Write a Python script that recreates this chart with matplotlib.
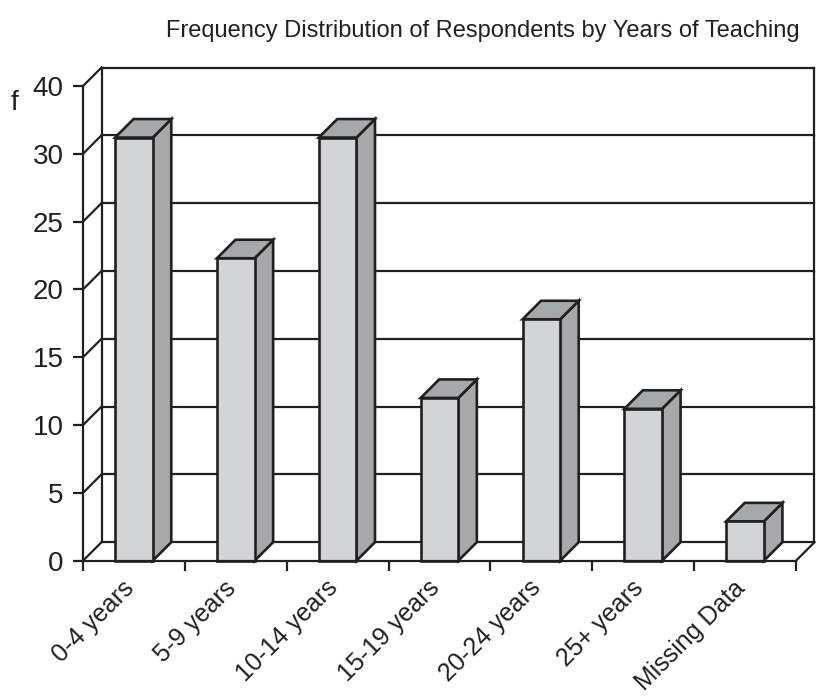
import numpy as np
import matplotlib.pyplot as plt
from matplotlib.patches import Polygon
from matplotlib.transforms import ScaledTranslation

plt.rcParams['font.family'] = ['Liberation Sans', 'DejaVu Sans']

# years-of-teaching groups and respondent counts
categories = ['0-4 years', '5-9 years', '10-14 years', '15-19 years',
              '20-24 years', '25+ years', 'Missing Data']
counts = [31.2, 22.3, 31.2, 12.0, 17.8, 11.2, 2.9]
ytick_values = [0, 5, 10, 15, 20, 25, 30, 35]
ytick_labels = ['0', '5', '10', '15', '20', '25', '30', '40']

line_col = '#231f20'
front_col = '#d3d4d6'
shade_col = '#a7a8aa'

W, H = 825, 697
fig = plt.figure(figsize=(W / 100, H / 100), dpi=100)
left, right, bottom, top = 83, 796, 560.7, 86
ax = fig.add_axes([left / W, 1 - bottom / H, (right - left) / W, (bottom - top) / H])

n = len(categories)
ymax = 35
ax.set_xlim(0, n)
ax.set_ylim(0, ymax)

# depth offset of the 3d box, in data units (about 18.5 px each way)
dx = 18.5 / ((right - left) / n)
dy = 18.5 / ((bottom - top) / ymax)

lw = 1.6
# back wall and its gridlines
for v in ytick_values:
    ax.plot([dx, n + dx], [v + dy, v + dy], color=line_col, lw=lw, clip_on=False, zorder=1)
    ax.plot([0, dx], [v, v + dy], color=line_col, lw=lw, clip_on=False, zorder=1)
ax.plot([dx, dx], [dy, ymax + dy], color=line_col, lw=lw, clip_on=False, zorder=1)
ax.plot([n + dx, n + dx], [dy, ymax + dy], color=line_col, lw=lw, clip_on=False, zorder=1)
ax.plot([n, n + dx], [0, dy], color=line_col, lw=lw, clip_on=False, zorder=1)

# 3d bars
bw = 0.37
for i, v in enumerate(counts):
    c = i + 0.5
    x0, x1 = c - bw / 2, c + bw / 2
    front = Polygon([(x0, 0), (x1, 0), (x1, v), (x0, v)], closed=True,
                    facecolor=front_col, edgecolor=line_col, lw=1.9, zorder=3,
                    joinstyle='miter', clip_on=False)
    side = Polygon([(x1, 0), (x1 + dx, dy), (x1 + dx, v + dy), (x1, v)], closed=True,
                   facecolor=shade_col, edgecolor=line_col, lw=1.9, zorder=2,
                   joinstyle='miter', clip_on=False)
    topf = Polygon([(x0, v), (x1, v), (x1 + dx, v + dy), (x0 + dx, v + dy)], closed=True,
                   facecolor=shade_col, edgecolor=line_col, lw=1.9, zorder=2,
                   joinstyle='miter', clip_on=False)
    for p in (side, topf, front):
        ax.add_patch(p)

# front axes
for s in ('top', 'right'):
    ax.spines[s].set_visible(False)
for s in ('left', 'bottom'):
    ax.spines[s].set_color(line_col)
    ax.spines[s].set_linewidth(lw)
    ax.spines[s].set_zorder(4)

ax.set_yticks(ytick_values)
ax.set_yticklabels(ytick_labels)
ax.tick_params(axis='y', length=7, width=lw, color=line_col, labelsize=20,
               labelcolor=line_col, pad=7)

ax.set_xticks(np.arange(n + 1))
ax.set_xticklabels([])
ax.set_xticks(np.arange(n) + 0.5, minor=True)
ax.set_xticklabels(categories, minor=True, rotation=45, ha='right', va='center',
                   rotation_mode='anchor', fontsize=18, color=line_col)
ax.tick_params(axis='x', which='major', length=7, width=lw, color=line_col)
ax.tick_params(axis='x', which='minor', length=0, pad=17)
shift = ScaledTranslation(-4 / 100, 0, fig.dpi_scale_trans)
for lab in ax.get_xticklabels(minor=True):
    lab.set_transform(lab.get_transform() + shift)

fig.text(11 / W, 1 - 103 / H, 'f', fontsize=20, color=line_col, ha='left', va='center')
fig.text(483 / W, 1 - 31 / H, 'Frequency Distribution of Respondents by Years of Teaching',
         fontsize=17, color=line_col, ha='center', va='center')

fig.savefig('out.png', dpi=100)
